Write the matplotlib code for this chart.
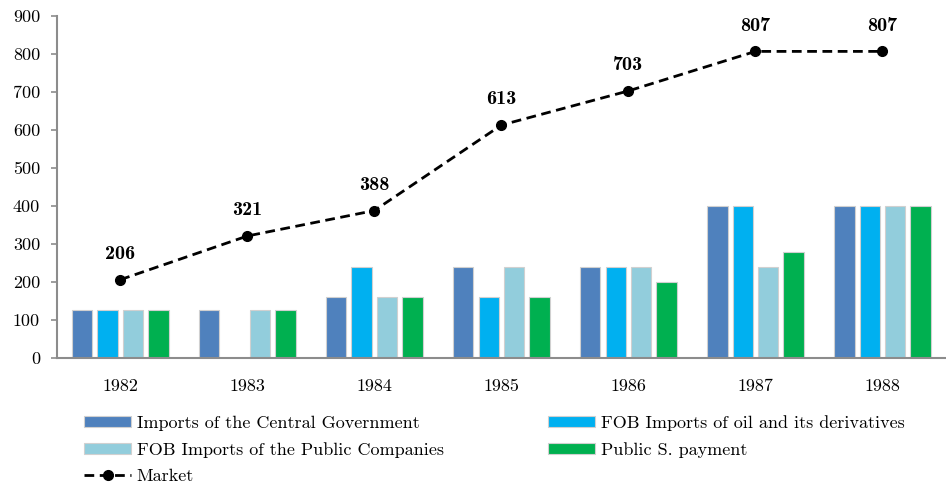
import matplotlib.pyplot as plt
import numpy as np

years = ["1982", "1983", "1984", "1985", "1986", "1987", "1988"]
central_gov = [125, 125, 160, 240, 240, 400, 400]
fob_oil = [125, 0, 240, 160, 240, 400, 400]
fob_public = [125, 125, 160, 240, 240, 240, 400]
public_s = [125, 125, 160, 160, 200, 280, 400]
market = [206, 321, 388, 613, 703, 807, 807]

plt.rcParams['font.family'] = ['cmr10', 'DejaVu Sans']
plt.rcParams['axes.unicode_minus'] = False
plt.rcParams['axes.formatter.use_mathtext'] = False

fig = plt.figure(figsize=(9.46, 4.87), dpi=100)
ax = fig.add_axes([0.060, 0.265, 0.94, 0.702])

x = np.arange(len(years))
w = 0.16
edge = '#d0d0d0'
b1 = ax.bar(x - 0.3, central_gov, w, color='#4F81BD', edgecolor=edge, linewidth=0.8,
            label='Imports of the Central Government')
b2 = ax.bar(x - 0.1, fob_oil, w, color='#00B0F0', edgecolor=edge, linewidth=0.8,
            label='FOB Imports of oil and its derivatives')
b3 = ax.bar(x + 0.1, fob_public, w, color='#92CDDC', edgecolor=edge, linewidth=0.8,
            label='FOB Imports of the Public Companies')
b4 = ax.bar(x + 0.3, public_s, w, color='#00B050', edgecolor=edge, linewidth=0.8,
            label='Public S. payment')
ln, = ax.plot(x, market, color='black', linestyle='--', linewidth=2,
              marker='o', markersize=7, label='Market', dashes=(3.5, 2))

for xi, v in zip(x, market):
    ax.annotate(str(v), (xi, v), xytext=(0, 12), textcoords='offset points',
                ha='center', va='bottom', fontsize=14.5, fontfamily='cmb10')

ax.set_xlim(-0.5, 6.5)
ax.set_ylim(0, 900)
ax.set_yticks(range(0, 901, 100))
ax.set_xticks(x)
ax.set_xticklabels(years)

for s in ['top', 'right']:
    ax.spines[s].set_visible(False)
for s in ['left', 'bottom']:
    ax.spines[s].set_color('#8c8c8c')
    ax.spines[s].set_linewidth(1.5)
ax.tick_params(axis='y', length=4, color='#8c8c8c', width=1.2, labelsize=13, pad=8)
ax.tick_params(axis='x', length=0, labelsize=13, pad=15)

handles = [b1, b3, ln, b2, b4]
fig.legend(handles, [h.get_label() for h in handles], ncol=2, loc='upper left',
           bbox_to_anchor=(0.089, 0.148), frameon=False, fontsize=13,
           handlelength=2.6, handleheight=0.55, handletextpad=0.3, labelspacing=0.62,
           columnspacing=5.8, borderpad=0, borderaxespad=0)

plt.savefig('out.png', dpi=100)
